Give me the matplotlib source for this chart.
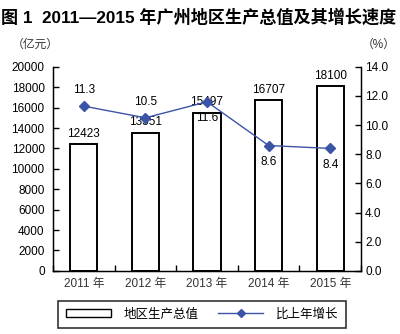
import numpy as np
import matplotlib.pyplot as plt
from matplotlib.lines import Line2D
from matplotlib.patches import Patch

plt.rcParams['font.family'] = ['Liberation Sans', 'Noto Sans CJK SC']

years = ['2011 年', '2012 年', '2013 年', '2014 年', '2015 年']
gdp = [12423, 13551, 15497, 16707, 18100]
growth = [11.3, 10.5, 11.6, 8.6, 8.4]
# label above (+1) or below (-1) each growth point
growth_pos = [1, 1, -1, -1, -1]

blue = '#3b54a6'

fig = plt.figure(figsize=(4.0, 3.34), dpi=100)
ax = fig.add_axes([0.1325, 0.189, 0.77, 0.611])
ax2 = ax.twinx()

x = np.arange(len(years))
bars = ax.bar(x, gdp, width=0.44, facecolor='white', edgecolor='black', linewidth=1.4, zorder=2)
for xi, v in zip(x, gdp):
    ax.text(xi, v + 420, str(v), ha='center', va='bottom', fontsize=8.5)

ax.set_xlim(-0.5, len(years) - 0.5)
ax.set_ylim(0, 20000)
ax.set_yticks(np.arange(0, 20001, 2000))
ax.set_xticks(x)
ax.set_xticklabels(years, fontsize=8.5, color='#333333')
ax.set_xticks(np.arange(-0.5, len(years), 1), minor=True)
ax.tick_params(axis='x', which='major', length=0, pad=5)
ax.tick_params(axis='x', which='minor', direction='in', length=4, width=1)
ax.tick_params(axis='y', direction='in', length=4, width=1, labelsize=8.5, pad=6)
for s in ['top']:
    ax.spines[s].set_visible(False)
for s in ['left', 'bottom', 'right']:
    ax.spines[s].set_linewidth(1)

ax2.plot(x, growth, color=blue, lw=1, marker='D', markersize=5, zorder=3)
for xi, v, p in zip(x, growth, growth_pos):
    if p > 0:
        ax2.text(xi, v + 0.7, f'{v:.1f}', ha='center', va='bottom', fontsize=8.5)
    else:
        ax2.text(xi, v - 0.7, f'{v:.1f}', ha='center', va='top', fontsize=8.5)
ax2.set_ylim(0, 14)
ax2.set_yticks(np.arange(0, 14.1, 2))
ax2.set_yticklabels([f'{t:.1f}' for t in np.arange(0, 14.1, 2)])
ax2.tick_params(axis='y', direction='in', length=4, width=1, labelsize=8.5, pad=3)
ax2.spines['top'].set_visible(False)

fig.text(0.003, 0.975, '图 1  2011—2015 年广州地区生产总值及其增长速度',
         ha='left', va='top', fontsize=12.3, fontweight='bold')
fig.text(0.03, 0.865, '（亿元）', ha='left', va='center', fontsize=8.5, color='#333333')
fig.text(0.99, 0.865, '（%）', ha='right', va='center', fontsize=8.5, color='#333333')

handles = [Patch(facecolor='white', edgecolor='black', linewidth=1),
           Line2D([], [], color=blue, lw=1, marker='D', markersize=4)]
leg = fig.legend(handles, ['地区生产总值', '比上年增长'], loc='center',
                 bbox_to_anchor=(0.505, 0.059), ncol=2, fontsize=9, frameon=True,
                 fancybox=False, edgecolor='black', handlelength=3.6, handleheight=0.6,
                 columnspacing=1.6, borderpad=0.6, borderaxespad=0, handletextpad=1.0)
leg.get_frame().set_linewidth(1.2)

fig.savefig('out.png', dpi=100)
